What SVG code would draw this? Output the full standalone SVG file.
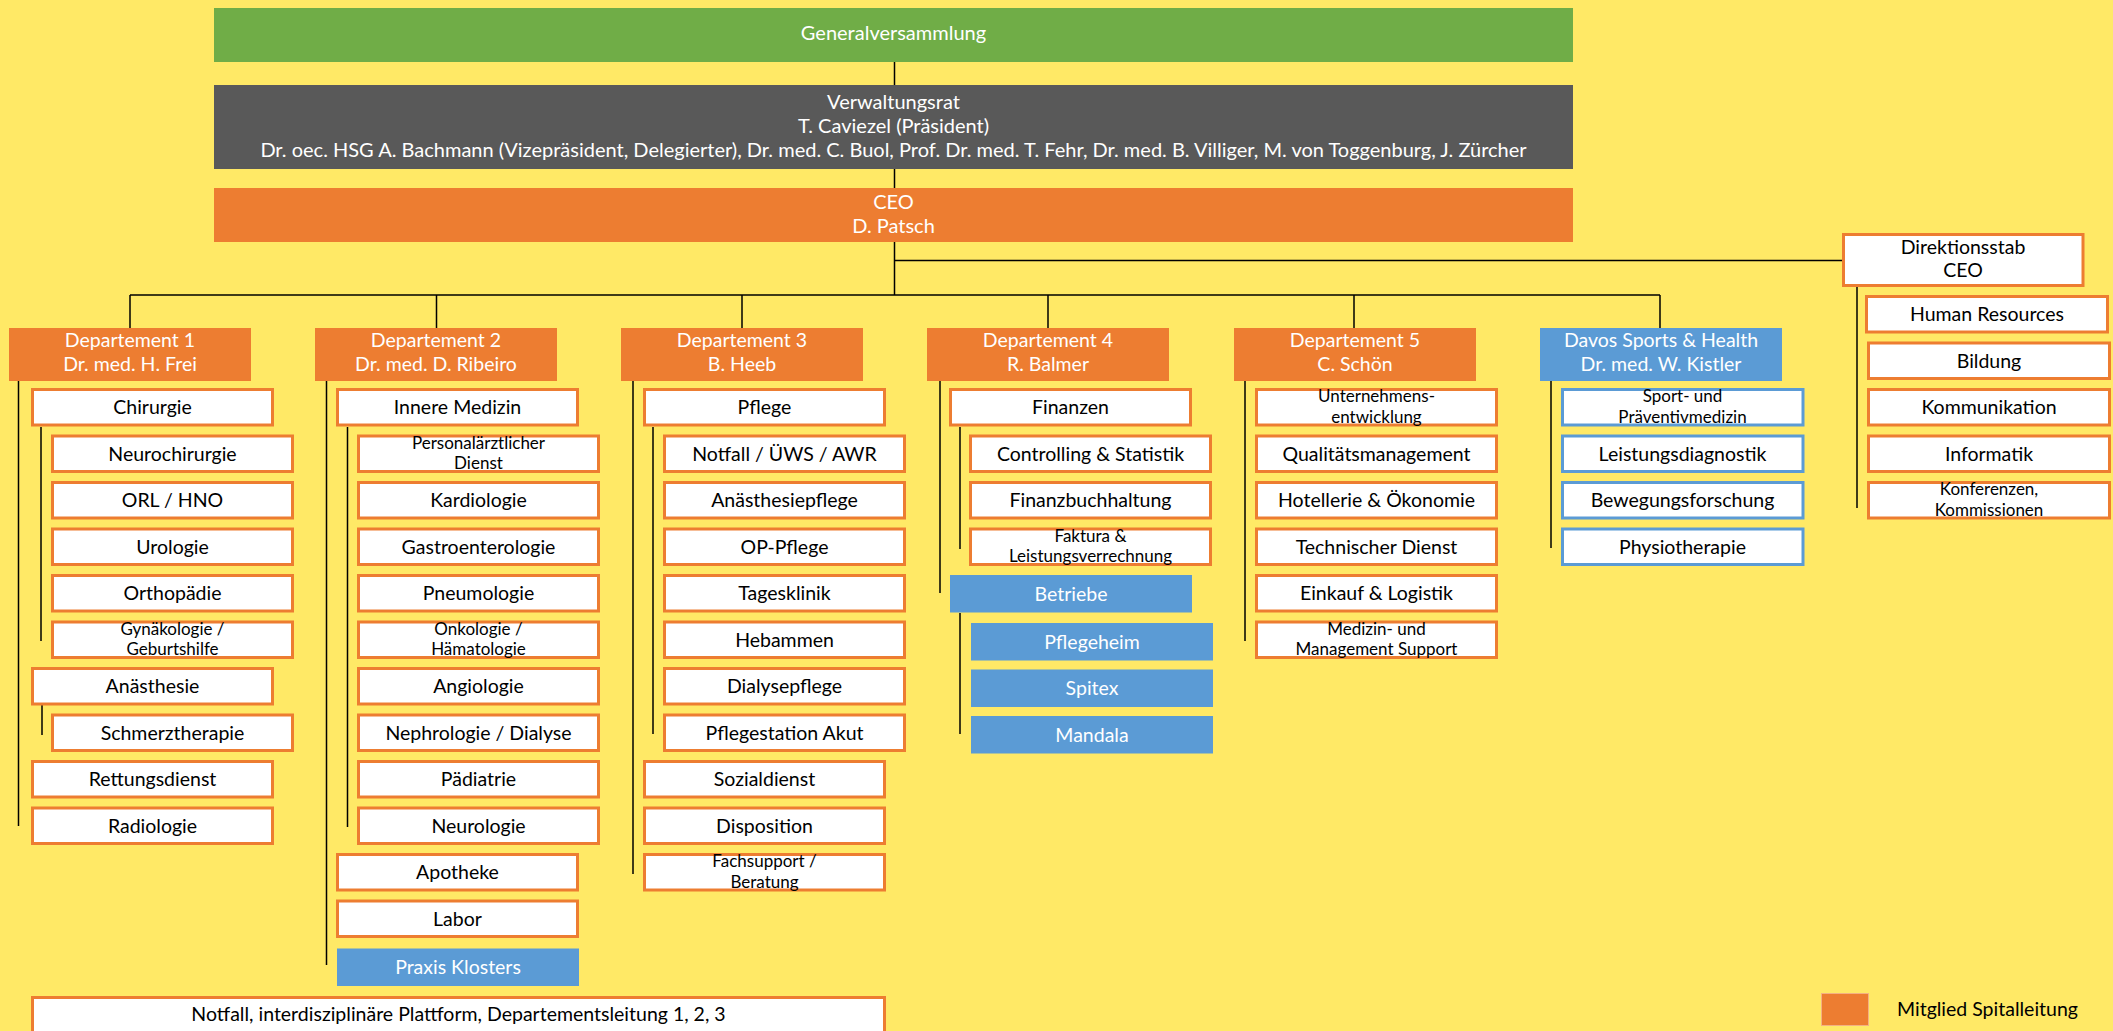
<svg xmlns="http://www.w3.org/2000/svg" width="2113" height="1031" viewBox="0 0 2113 1031">
<style>
.l{stroke:#000;stroke-width:1.5;fill:none}
.wb{fill:#fff;stroke:#ed7d31;stroke-width:3}
.db{fill:#fff;stroke:#5b9bd5;stroke-width:3}
.bb{fill:#5b9bd5}
.ob{fill:#ed7d31}
text{font-family:Lato,"Liberation Sans",sans-serif;font-size:19.5px;text-anchor:middle}
.t{fill:#000}
.tw{fill:#fff}
.s{font-size:17px}
.top{font-size:20px}
</style>
<rect width="2113" height="1031" fill="#ffe966"/>
<g id="connectors">
<path class="l" d="M894.5 62V85M894.5 169V188M894.5 242V295M130 295H1660M130 295V328M436.5 295V328M742 295V328M1048 295V328M1354 295V328M1660 295V328M894.5 260.5H1842"/>
<path class="l" d="M18.5 381V826M41 427V641M42 705V735"/>
<path class="l" d="M326.5 381V965M347.5 427V827"/>
<path class="l" d="M633 381V874M653 427V734"/>
<path class="l" d="M940 381V593M960 427V549M960 613V734"/>
<path class="l" d="M1245 381V641M1551 381V548M1857 287V508"/>
</g>
<g id="generalversammlung"><rect x="214" y="8" width="1359" height="54" fill="#70ad47"/><text class="tw top" x="893.5" y="40">Generalversammlung</text></g>
<g id="verwaltungsrat"><rect x="214" y="85" width="1359" height="84" fill="#595959"/><text class="tw top" x="893.5" y="108.5">Verwaltungsrat</text><text class="tw top" x="893.5" y="132.5">T. Caviezel (Präsident)</text><text class="tw top" x="893.5" y="157">Dr. oec. HSG A. Bachmann (Vizepräsident, Delegierter), Dr. med. C. Buol, Prof. Dr. med. T. Fehr, Dr. med. B. Villiger, M. von Toggenburg, J. Zürcher</text></g>
<g id="ceo"><rect x="214" y="188" width="1359" height="54" class="ob"/><text class="tw top" x="893.5" y="208.5">CEO</text><text class="tw top" x="893.5" y="233">D. Patsch</text></g>
<g id="direktionsstab"><rect x="1843.5" y="234.5" width="239.5" height="51" class="wb"/><text class="t" x="1963" y="253.5">Direktionsstab</text><text class="t" x="1963" y="277">CEO</text></g>

<g id="dept1"><rect x="9" y="328" width="242" height="53" class="ob"/><text class="tw" x="130" y="347">Departement 1</text><text class="tw" x="130" y="371">Dr. med. H. Frei</text></g>
<g id="dept2"><rect x="315" y="328" width="242" height="53" class="ob"/><text class="tw" x="436" y="347">Departement 2</text><text class="tw" x="436" y="371">Dr. med. D. Ribeiro</text></g>
<g id="dept3"><rect x="621" y="328" width="242" height="53" class="ob"/><text class="tw" x="742" y="347">Departement 3</text><text class="tw" x="742" y="371">B. Heeb</text></g>
<g id="dept4"><rect x="927" y="328" width="242" height="53" class="ob"/><text class="tw" x="1048" y="347">Departement 4</text><text class="tw" x="1048" y="371">R. Balmer</text></g>
<g id="dept5"><rect x="1234" y="328" width="242" height="53" class="ob"/><text class="tw" x="1355" y="347">Departement 5</text><text class="tw" x="1355" y="371">C. Schön</text></g>
<g id="davos"><rect x="1540" y="328" width="242" height="53" class="bb"/><text class="tw" x="1661" y="347">Davos Sports &amp; Health</text><text class="tw" x="1661" y="371">Dr. med. W. Kistler</text></g>

<!-- Dept 1 -->
<g id="chirurgie"><rect x="32.5" y="389.5" width="240" height="35.5" class="wb"/><text class="t" x="152.5" y="414">Chirurgie</text></g>
<g id="neurochirurgie"><rect x="52.5" y="436" width="240" height="35.5" class="wb"/><text class="t" x="172.5" y="460.5">Neurochirurgie</text></g>
<g id="orl"><rect x="52.5" y="482.5" width="240" height="35.5" class="wb"/><text class="t" x="172.5" y="507">ORL / HNO</text></g>
<g id="urologie"><rect x="52.5" y="529" width="240" height="35.5" class="wb"/><text class="t" x="172.5" y="553.5">Urologie</text></g>
<g id="orthopaedie"><rect x="52.5" y="575.5" width="240" height="35.5" class="wb"/><text class="t" x="172.5" y="600">Orthopädie</text></g>
<g id="gynaekologie"><rect x="52.5" y="622" width="240" height="35.5" class="wb"/><text class="t s" x="172.5" y="634.5">Gynäkologie /</text><text class="t s" x="172.5" y="655">Geburtshilfe</text></g>
<g id="anaesthesie"><rect x="32.5" y="668.5" width="240" height="35.5" class="wb"/><text class="t" x="152.5" y="693">Anästhesie</text></g>
<g id="schmerztherapie"><rect x="52.5" y="715" width="240" height="35.5" class="wb"/><text class="t" x="172.5" y="739.5">Schmerztherapie</text></g>
<g id="rettungsdienst"><rect x="32.5" y="761.5" width="240" height="35.5" class="wb"/><text class="t" x="152.5" y="786">Rettungsdienst</text></g>
<g id="radiologie"><rect x="32.5" y="808" width="240" height="35.5" class="wb"/><text class="t" x="152.5" y="832.5">Radiologie</text></g>

<!-- Dept 2 -->
<g id="innere-medizin"><rect x="337.5" y="389.5" width="240" height="35.5" class="wb"/><text class="t" x="457.5" y="414">Innere Medizin</text></g>
<g id="personalaerztlicher-dienst"><rect x="358.5" y="436" width="240" height="35.5" class="wb"/><text class="t s" x="478.5" y="448.5">Personalärztlicher</text><text class="t s" x="478.5" y="469">Dienst</text></g>
<g id="kardiologie"><rect x="358.5" y="482.5" width="240" height="35.5" class="wb"/><text class="t" x="478.5" y="507">Kardiologie</text></g>
<g id="gastroenterologie"><rect x="358.5" y="529" width="240" height="35.5" class="wb"/><text class="t" x="478.5" y="553.5">Gastroenterologie</text></g>
<g id="pneumologie"><rect x="358.5" y="575.5" width="240" height="35.5" class="wb"/><text class="t" x="478.5" y="600">Pneumologie</text></g>
<g id="onkologie"><rect x="358.5" y="622" width="240" height="35.5" class="wb"/><text class="t s" x="478.5" y="634.5">Onkologie /</text><text class="t s" x="478.5" y="655">Hämatologie</text></g>
<g id="angiologie"><rect x="358.5" y="668.5" width="240" height="35.5" class="wb"/><text class="t" x="478.5" y="693">Angiologie</text></g>
<g id="nephrologie"><rect x="358.5" y="715" width="240" height="35.5" class="wb"/><text class="t" x="478.5" y="739.5">Nephrologie / Dialyse</text></g>
<g id="paediatrie"><rect x="358.5" y="761.5" width="240" height="35.5" class="wb"/><text class="t" x="478.5" y="786">Pädiatrie</text></g>
<g id="neurologie"><rect x="358.5" y="808" width="240" height="35.5" class="wb"/><text class="t" x="478.5" y="832.5">Neurologie</text></g>
<g id="apotheke"><rect x="337.5" y="854.5" width="240" height="35.5" class="wb"/><text class="t" x="457.5" y="879">Apotheke</text></g>
<g id="labor"><rect x="337.5" y="901" width="240" height="35.5" class="wb"/><text class="t" x="457.5" y="925.5">Labor</text></g>
<g id="praxis-klosters"><rect x="337" y="948.5" width="242" height="37.5" class="bb"/><text class="tw" x="458" y="974">Praxis Klosters</text></g>

<!-- Dept 3 -->
<g id="pflege"><rect x="644.5" y="389.5" width="240" height="35.5" class="wb"/><text class="t" x="764.5" y="414">Pflege</text></g>
<g id="notfall-uews"><rect x="664.5" y="436" width="240" height="35.5" class="wb"/><text class="t" x="784.5" y="460.5">Notfall / ÜWS / AWR</text></g>
<g id="anaesthesiepflege"><rect x="664.5" y="482.5" width="240" height="35.5" class="wb"/><text class="t" x="784.5" y="507">Anästhesiepflege</text></g>
<g id="op-pflege"><rect x="664.5" y="529" width="240" height="35.5" class="wb"/><text class="t" x="784.5" y="553.5">OP-Pflege</text></g>
<g id="tagesklinik"><rect x="664.5" y="575.5" width="240" height="35.5" class="wb"/><text class="t" x="784.5" y="600">Tagesklinik</text></g>
<g id="hebammen"><rect x="664.5" y="622" width="240" height="35.5" class="wb"/><text class="t" x="784.5" y="646.5">Hebammen</text></g>
<g id="dialysepflege"><rect x="664.5" y="668.5" width="240" height="35.5" class="wb"/><text class="t" x="784.5" y="693">Dialysepflege</text></g>
<g id="pflegestation-akut"><rect x="664.5" y="715" width="240" height="35.5" class="wb"/><text class="t" x="784.5" y="739.5">Pflegestation Akut</text></g>
<g id="sozialdienst"><rect x="644.5" y="761.5" width="240" height="35.5" class="wb"/><text class="t" x="764.5" y="786">Sozialdienst</text></g>
<g id="disposition"><rect x="644.5" y="808" width="240" height="35.5" class="wb"/><text class="t" x="764.5" y="832.5">Disposition</text></g>
<g id="fachsupport"><rect x="644.5" y="854.5" width="240" height="35.5" class="wb"/><text class="t s" x="764.5" y="867">Fachsupport /</text><text class="t s" x="764.5" y="887.5">Beratung</text></g>

<!-- Dept 4 -->
<g id="finanzen"><rect x="950.5" y="389.5" width="240" height="35.5" class="wb"/><text class="t" x="1070.5" y="414">Finanzen</text></g>
<g id="controlling"><rect x="970.5" y="436" width="240" height="35.5" class="wb"/><text class="t" x="1090.5" y="460.5">Controlling &amp; Statistik</text></g>
<g id="finanzbuchhaltung"><rect x="970.5" y="482.5" width="240" height="35.5" class="wb"/><text class="t" x="1090.5" y="507">Finanzbuchhaltung</text></g>
<g id="faktura"><rect x="970.5" y="529" width="240" height="35.5" class="wb"/><text class="t s" x="1090.5" y="541.5">Faktura &amp;</text><text class="t s" x="1090.5" y="562">Leistungsverrechnung</text></g>
<g id="betriebe"><rect x="950" y="575" width="242" height="37.5" class="bb"/><text class="tw" x="1071" y="600.5">Betriebe</text></g>
<g id="pflegeheim"><rect x="971" y="623" width="242" height="37.5" class="bb"/><text class="tw" x="1092" y="648.5">Pflegeheim</text></g>
<g id="spitex"><rect x="971" y="669.5" width="242" height="37.5" class="bb"/><text class="tw" x="1092" y="695">Spitex</text></g>
<g id="mandala"><rect x="971" y="716" width="242" height="37.5" class="bb"/><text class="tw" x="1092" y="741.5">Mandala</text></g>

<!-- Dept 5 -->
<g id="unternehmensentwicklung"><rect x="1256.5" y="389.5" width="240" height="35.5" class="wb"/><text class="t s" x="1376.5" y="402">Unternehmens-</text><text class="t s" x="1376.5" y="422.5">entwicklung</text></g>
<g id="qualitaetsmanagement"><rect x="1256.5" y="436" width="240" height="35.5" class="wb"/><text class="t" x="1376.5" y="460.5">Qualitätsmanagement</text></g>
<g id="hotellerie"><rect x="1256.5" y="482.5" width="240" height="35.5" class="wb"/><text class="t" x="1376.5" y="507">Hotellerie &amp; Ökonomie</text></g>
<g id="technischer-dienst"><rect x="1256.5" y="529" width="240" height="35.5" class="wb"/><text class="t" x="1376.5" y="553.5">Technischer Dienst</text></g>
<g id="einkauf"><rect x="1256.5" y="575.5" width="240" height="35.5" class="wb"/><text class="t" x="1376.5" y="600">Einkauf &amp; Logistik</text></g>
<g id="medizin-management"><rect x="1256.5" y="622" width="240" height="35.5" class="wb"/><text class="t s" x="1376.5" y="634.5">Medizin- und</text><text class="t s" x="1376.5" y="655">Management Support</text></g>

<!-- Davos -->
<g id="sportmedizin"><rect x="1562.5" y="389.5" width="240.5" height="35.5" class="db"/><text class="t s" x="1682.5" y="402">Sport- und</text><text class="t s" x="1682.5" y="422.5">Präventivmedizin</text></g>
<g id="leistungsdiagnostik"><rect x="1562.5" y="436" width="240.5" height="35.5" class="db"/><text class="t" x="1682.5" y="460.5">Leistungsdiagnostik</text></g>
<g id="bewegungsforschung"><rect x="1562.5" y="482.5" width="240.5" height="35.5" class="db"/><text class="t" x="1682.5" y="507">Bewegungsforschung</text></g>
<g id="physiotherapie"><rect x="1562.5" y="529" width="240.5" height="35.5" class="db"/><text class="t" x="1682.5" y="553.5">Physiotherapie</text></g>

<!-- Direktionsstab -->
<g id="human-resources"><rect x="1866.5" y="296.5" width="241" height="35.5" class="wb"/><text class="t" x="1987" y="321">Human Resources</text></g>
<g id="bildung"><rect x="1868.5" y="343" width="241" height="35.5" class="wb"/><text class="t" x="1989" y="367.5">Bildung</text></g>
<g id="kommunikation"><rect x="1868.5" y="389.5" width="241" height="35.5" class="wb"/><text class="t" x="1989" y="414">Kommunikation</text></g>
<g id="informatik"><rect x="1868.5" y="436" width="241" height="35.5" class="wb"/><text class="t" x="1989" y="460.5">Informatik</text></g>
<g id="konferenzen"><rect x="1868.5" y="482.5" width="241" height="35.5" class="wb"/><text class="t s" x="1989" y="495">Konferenzen,</text><text class="t s" x="1989" y="515.5">Kommissionen</text></g>

<g id="notfall-plattform"><rect x="32.5" y="997.5" width="852" height="45" class="wb"/><text class="t" x="458.5" y="1021">Notfall, interdisziplinäre Plattform, Departementsleitung 1, 2, 3</text></g>

<g id="legend"><rect x="1821.5" y="993.5" width="47" height="32" fill="#ed7d31" stroke="#f4b183" stroke-width="1"/><text class="t" x="1897" y="1016" style="text-anchor:start">Mitglied Spitalleitung</text></g>
</svg>
